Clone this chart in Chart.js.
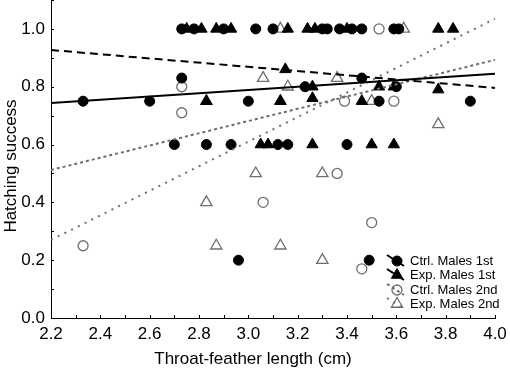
<!DOCTYPE html>
<html>
<head>
<meta charset="utf-8">
<script src="https://cdn.jsdelivr.net/npm/chart.js@4.4.1/dist/chart.umd.min.js"></script>
<style>
  html, body { margin: 0; padding: 0; background: #fff; }
</style>
</head>
<body>
<canvas id="chart" width="510" height="370"></canvas>
<script>
// Ctrl. Males 1st (filled circles)
const ctrl1X = [2.73, 2.78, 2.90, 3.03, 3.10, 3.30, 3.32, 3.37, 3.42, 3.46, 3.59, 3.61,
                2.73, 3.46, 3.23, 3.60,
                2.33, 2.60, 3.00, 3.53, 3.90,
                2.70, 2.83, 2.93, 3.12, 3.16, 3.40,
                2.96, 3.49];
const ctrl1Y = [1, 1, 1, 1, 1, 1, 1, 1, 1, 1, 1, 1,
                0.83, 0.83, 0.80, 0.80,
                0.75, 0.75, 0.75, 0.75, 0.75,
                0.60, 0.60, 0.60, 0.60, 0.60, 0.60,
                0.20, 0.20];

// Exp. Males 1st (filled triangles)
const exp1X = [2.75, 2.81, 2.87, 2.93, 3.16, 3.24, 3.27, 3.40, 3.77, 3.83,
               3.15, 3.26, 3.53, 3.59, 3.77,
               2.83, 3.13, 3.26, 3.46,
               3.05, 3.08, 3.26, 3.50, 3.59];
const exp1Y = [1, 1, 1, 1, 1, 1, 1, 1, 1, 1,
               0.86, 0.80, 0.80, 0.80, 0.79,
               0.75, 0.75, 0.76, 0.75,
               0.60, 0.60, 0.60, 0.60, 0.60];

// Ctrl. Males 2nd (open circles)
const ctrl2X = [3.53, 2.73, 2.73, 3.39, 3.59, 3.36, 3.06, 3.50, 2.33, 3.46];
const ctrl2Y = [1.00, 0.80, 0.71, 0.75, 0.75, 0.50, 0.40, 0.33, 0.25, 0.17];

// Exp. Males 2nd (open triangles)
const exp2X = [3.13, 3.63, 3.06, 3.36, 3.16, 2.83, 3.13, 3.50, 3.77, 3.03, 3.30, 2.83, 2.87, 3.13, 3.30];
const exp2Y = [1, 1, 0.83, 0.83, 0.80, 0.75, 0.75, 0.75, 0.67, 0.50, 0.50, 0.40, 0.25, 0.25, 0.20];

// regression lines, end points
const fitX = [2.2, 4.0];
const ctrl1Fit = [0.744, 0.845];
const exp1Fit = [0.927, 0.796];
const ctrl2Fit = [0.512, 0.893];
const exp2Fit = [0.27, 1.035];

const legendLabels = ['Ctrl. Males 1st', 'Exp. Males 1st', 'Ctrl. Males 2nd', 'Exp. Males 2nd'];
const xTickLabels = [2.2, 2.4, 2.6, 2.8, 3.0, 3.2, 3.4, 3.6, 3.8, 4.0];
const yTickLabels = [0.0, 0.2, 0.4, 0.6, 0.8, 1.0];
const xTitle = 'Throat-feather length (cm)';
const yTitle = 'Hatching success';

const FONT = "'Liberation Sans', Arial, sans-serif";
const GREY = '#6e6e6e';

const pts = (xs, ys) => xs.map((x, i) => ({ x: x, y: ys[i] }));

const styles = [
  { pointStyle: 'circle', radius: 5, fill: '#000', stroke: '#000', bw: 1, line: '#000', dash: [], lw: 2 },
  { pointStyle: 'triangle', radius: 6.5, fill: '#000', stroke: '#000', bw: 1, line: '#000', dash: [8, 5], lw: 2 },
  { pointStyle: 'circle', radius: 5, fill: 'rgba(0,0,0,0)', stroke: GREY, bw: 1.3, line: GREY, dash: [3, 3], lw: 2 },
  { pointStyle: 'triangle', radius: 6.5, fill: 'rgba(0,0,0,0)', stroke: GREY, bw: 1.3, line: GREY, dash: [2, 5.5], lw: 2 }
];

const fits = [ctrl1Fit, exp1Fit, ctrl2Fit, exp2Fit];
const series = [[ctrl1X, ctrl1Y], [exp1X, exp1Y], [ctrl2X, ctrl2Y], [exp2X, exp2Y]];

const datasets = [];
fits.forEach((f, i) => {
  datasets.push({
    data: pts(fitX, f),
    showLine: true,
    borderColor: styles[i].line,
    borderWidth: styles[i].lw,
    borderDash: styles[i].dash,
    pointRadius: 0,
    fill: false
  });
});
series.forEach((s, i) => {
  datasets.push({
    data: pts(s[0], s[1]),
    pointStyle: styles[i].pointStyle,
    pointRadius: styles[i].radius,
    backgroundColor: styles[i].fill,
    borderColor: styles[i].stroke,
    borderWidth: styles[i].bw
  });
});

// tick marks pointing into the plot
const inwardTicks = {
  id: 'inwardTicks',
  afterDraw(chart) {
    const { ctx, chartArea: a, scales: { x, y } } = chart;
    ctx.save();
    ctx.strokeStyle = '#000';
    ctx.lineWidth = 1;
    ctx.beginPath();
    x.ticks.forEach(t => {
      const px = Math.round(x.getPixelForValue(t.value)) + 0.5;
      ctx.moveTo(px, a.bottom);
      ctx.lineTo(px, a.bottom - 3);
    });
    y.ticks.forEach(t => {
      const py = Math.round(y.getPixelForValue(t.value)) + 0.5;
      ctx.moveTo(a.left, py);
      ctx.lineTo(a.left + 3, py);
    });
    ctx.stroke();
    ctx.restore();
  }
};

// axis titles, placed like the original figure
const axisTitles = {
  id: 'axisTitles',
  afterDraw(chart) {
    const ctx = chart.ctx;
    ctx.save();
    ctx.fillStyle = '#000';
    ctx.font = '17px ' + FONT;
    ctx.textAlign = 'center';
    ctx.textBaseline = 'middle';
    ctx.fillText(xTitle, 253, 359);
    ctx.translate(11, 166);
    ctx.rotate(-Math.PI / 2);
    ctx.fillText(yTitle, 0, 0);
    ctx.restore();
  }
};

// legend in the lower right corner, line sample behind each marker
const cornerLegend = {
  id: 'cornerLegend',
  afterDraw(chart) {
    const ctx = chart.ctx;
    const rows = [261, 275, 290, 304];
    const mx = 397;
    ctx.save();
    legendLabels.forEach((label, i) => {
      const st = styles[i];
      const yy = rows[i];
      ctx.save();
      ctx.strokeStyle = st.line;
      ctx.lineWidth = st.lw;
      ctx.setLineDash(st.dash);
      ctx.beginPath();
      ctx.moveTo(mx - 10, yy - 6);
      ctx.lineTo(mx + 7, yy + 5);
      ctx.stroke();
      ctx.restore();
      ctx.fillStyle = st.fill;
      ctx.strokeStyle = st.stroke;
      ctx.lineWidth = st.bw;
      Chart.helpers.drawPoint(ctx, { pointStyle: st.pointStyle, radius: st.radius, borderWidth: st.bw, rotation: 0 }, mx, yy);
      ctx.fillStyle = '#000';
      ctx.font = '13px ' + FONT;
      ctx.textBaseline = 'middle';
      ctx.textAlign = 'left';
      ctx.fillText(label, 410, yy);
    });
    ctx.restore();
  }
};

const near = (v, list) => list.some(t => Math.abs(t - v) < 1e-6);
const noPadding = () => ({ left: 0, top: 0, right: 0, bottom: 0 });

new Chart(document.getElementById('chart'), {
  type: 'scatter',
  data: { datasets: datasets },
  options: {
    responsive: false,
    animation: false,
    layout: { autoPadding: false, padding: { left: 0, right: 15, top: 0, bottom: 0 } },
    plugins: {
      legend: { display: false },
      tooltip: { enabled: false }
    },
    scales: {
      x: {
        type: 'linear',
        min: 2.2,
        max: 4.0,
        grid: { display: false, drawTicks: false },
        border: { display: true, color: '#000', width: 1 },
        ticks: {
          stepSize: 0.1,
          autoSkip: false,
          maxRotation: 0,
          padding: 6,
          color: '#000',
          font: { family: FONT, size: 17 },
          callback: v => near(v, xTickLabels) ? v.toFixed(1) : ''
        },
        afterFit: s => { s.height = 52; s.getPadding = noPadding; }
      },
      y: {
        type: 'linear',
        min: 0,
        max: 1.1,
        grid: { display: false, drawTicks: false },
        border: { display: true, color: '#000', width: 1 },
        ticks: {
          stepSize: 0.1,
          autoSkip: false,
          padding: 6,
          color: '#000',
          font: { family: FONT, size: 17 },
          callback: v => near(v, yTickLabels) ? v.toFixed(1) : ''
        },
        afterFit: s => { s.width = 51; s.getPadding = noPadding; }
      }
    }
  },
  plugins: [inwardTicks, axisTitles, cornerLegend]
});
</script>
</body>
</html>
